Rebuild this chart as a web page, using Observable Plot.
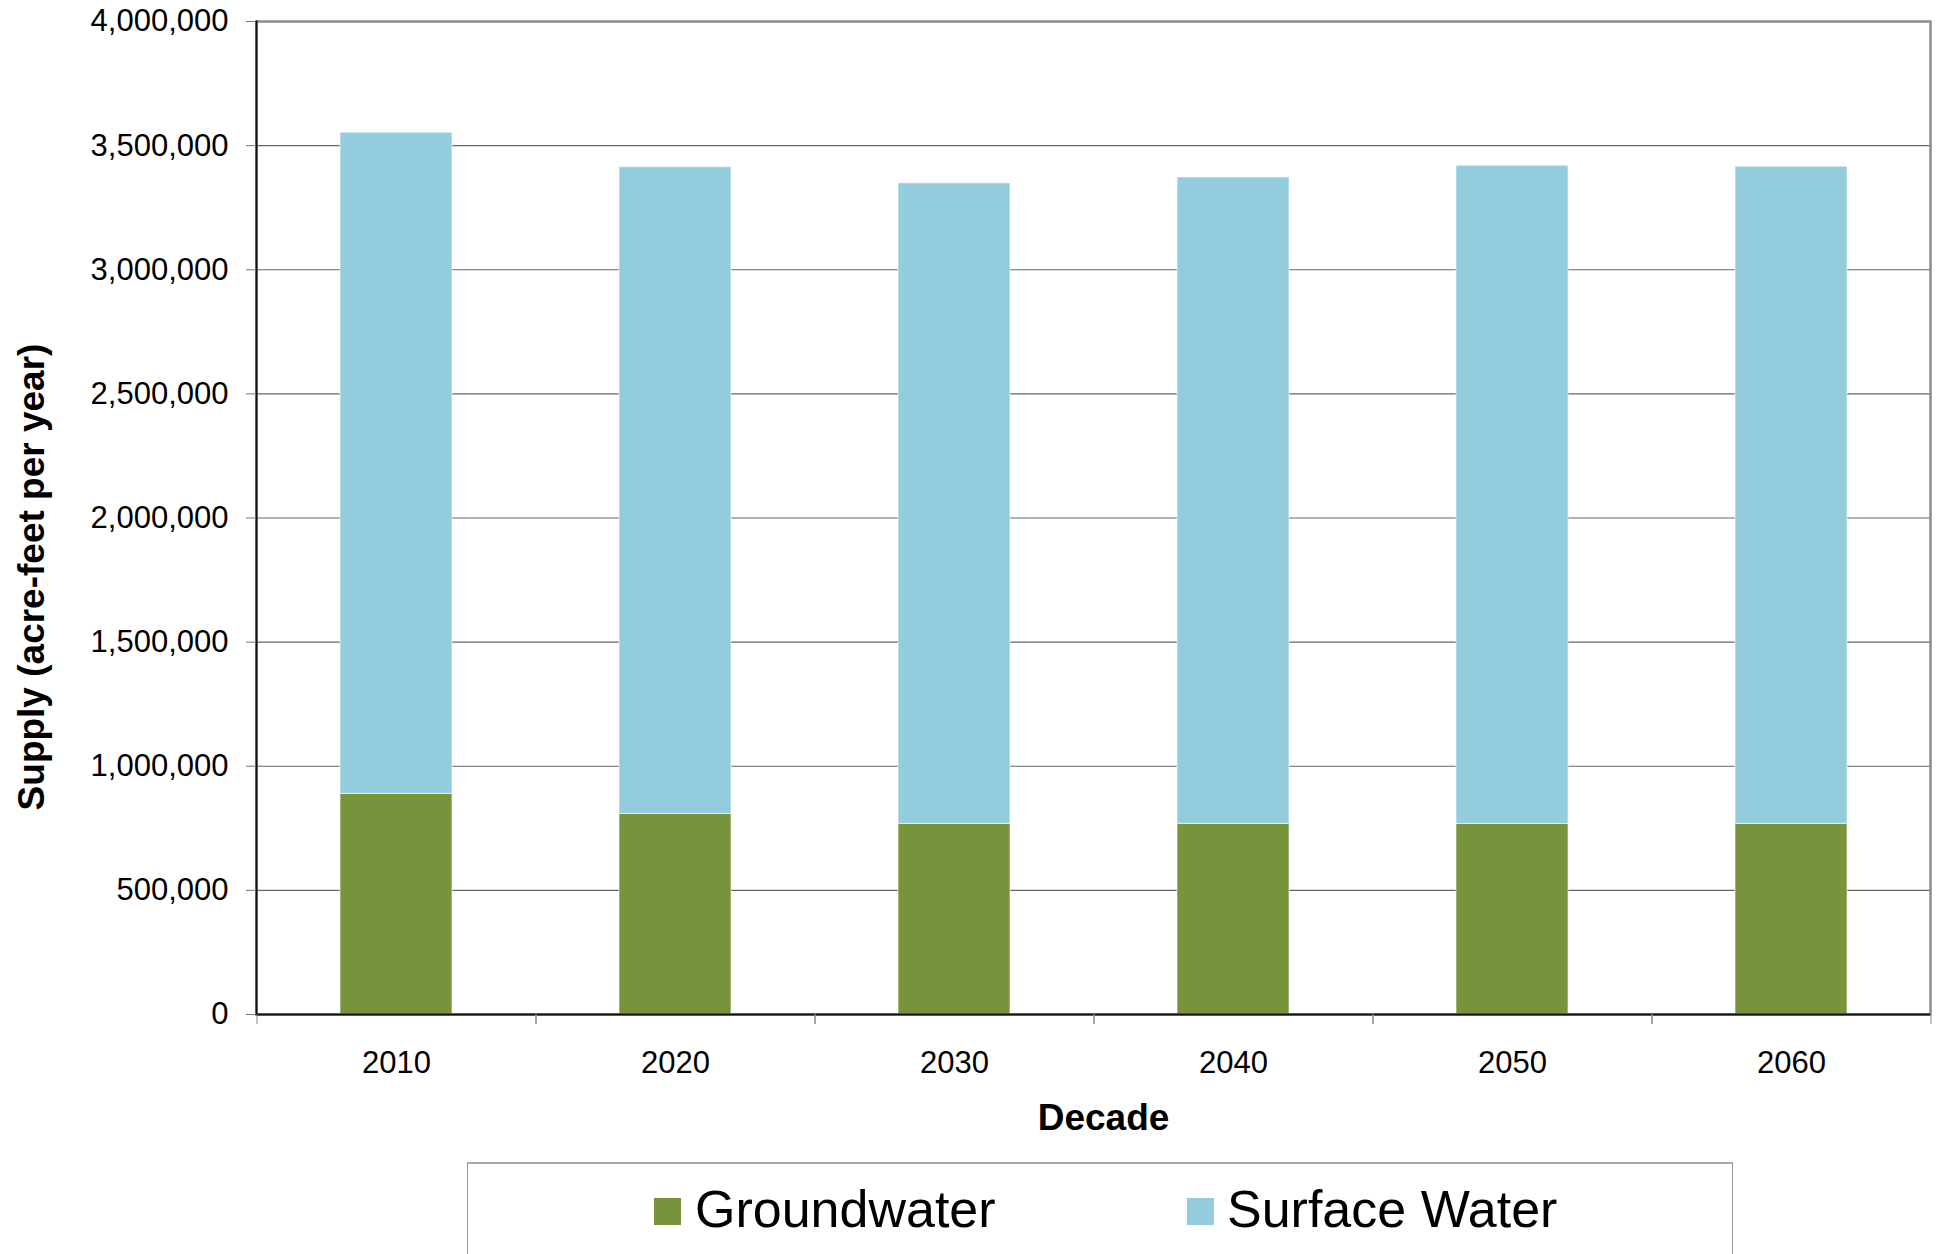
<!DOCTYPE html>
<html>
<head>
<meta charset="utf-8">
<script src="https://cdn.jsdelivr.net/npm/d3@7"></script>
<script src="https://cdn.jsdelivr.net/npm/@observablehq/plot@0.6"></script>
<style>
  html, body { margin: 0; padding: 0; background: #fff; width: 1942px; height: 1254px; overflow: hidden; }
  #wrap { position: relative; width: 1942px; height: 1254px; font-family: "Liberation Sans", Arial, sans-serif; }
  #legend { position: absolute; left: 467px; top: 1162px; width: 1266px; height: 130px; box-sizing: border-box;
            border: 1px solid #9a9a9a; border-top: 2px solid #a8a8a8; background: #fff; }
  .sw { position: absolute; width: 27px; height: 27px; }
  .lt { position: absolute; font-size: 52px; line-height: 1; color: #000; white-space: nowrap; }
</style>
</head>
<body>
<div id="wrap"><div id="chart"></div><div id="legend"></div></div>
<script>
// ---- data ----
const decades = ["2010", "2020", "2030", "2040", "2050", "2060"];
const groundwater = [889000, 808000, 768000, 768000, 768000, 768000];
const surfaceWater = [2663000, 2605000, 2580000, 2604000, 2651000, 2647000];
const seriesNames = ["Groundwater", "Surface Water"];
const seriesColors = ["#77933C", "#93CDDD"];
const yTicks = [0, 500000, 1000000, 1500000, 2000000, 2500000, 3000000, 3500000, 4000000];
const xTitle = "Decade";
const yTitle = "Supply (acre-feet per year)";

const rows = decades.flatMap((d, i) => [
  {decade: d, type: seriesNames[0], value: groundwater[i]},
  {decade: d, type: seriesNames[1], value: surfaceWater[i]}
]);

const halfStep = 139.5;

const chart = Plot.plot({
  width: 1942,
  height: 1150,
  marginLeft: 256,
  marginRight: 12,
  marginTop: 21,
  marginBottom: 136,
  style: {fontFamily: '"Liberation Sans", Arial, sans-serif', fontSize: "31px", color: "#000", background: "#fff"},
  x: {domain: decades, paddingInner: 0.6, paddingOuter: 0.3, label: null},
  y: {domain: [0, 4000000], label: null},
  color: {domain: seriesNames, range: seriesColors},
  marks: [
    Plot.gridY(yTicks, {stroke: "#666", strokeOpacity: 1, strokeWidth: 1.2}),
    Plot.barY(rows, {x: "decade", y: "value", fill: "type", stroke: "#fff", strokeOpacity: 0.6, strokeWidth: 1}),
    Plot.frame({stroke: "#8c8c8c", strokeWidth: 2.5}),
    Plot.frame({anchor: "left", stroke: "#111", strokeWidth: 2}),
    Plot.ruleY([0], {stroke: "#111", strokeWidth: 2.2}),
    Plot.axisY(yTicks, {tickSize: 10, tickPadding: 18, tickFormat: d3.format(","), stroke: "#777", fill: "#000", label: null}),
    Plot.axisX({tickSize: 0, tickPadding: 36, fill: "#000", label: null}),
    Plot.axisX({tickSize: 10, tickFormat: () => "", dx: -halfStep, stroke: "#888", label: null}),
    Plot.axisX({tickSize: 10, tickFormat: () => "", dx: halfStep, stroke: "#888", label: null}),
    Plot.text([xTitle], {frameAnchor: "bottom", textAnchor: "middle", dx: 10, dy: 104, lineAnchor: "middle", fontWeight: "bold", fontSize: 37, fill: "#000"}),
    Plot.text([yTitle], {frameAnchor: "left", textAnchor: "middle", rotate: -90, dx: -224, dy: 59, lineAnchor: "middle", fontWeight: "bold", fontSize: 37, fill: "#000"})
  ]
});
document.getElementById("chart").appendChild(chart);

// ---- legend ----
const legend = document.getElementById("legend");
const swX = [186, 719];
const txX = [227, 759];
seriesNames.forEach((name, i) => {
  const sw = document.createElement("div");
  sw.className = "sw";
  sw.style.left = swX[i] + "px";
  sw.style.top = "34px";
  sw.style.background = seriesColors[i];
  legend.appendChild(sw);
  const t = document.createElement("div");
  t.className = "lt";
  t.style.left = txX[i] + "px";
  t.style.top = "19px";
  t.textContent = name;
  legend.appendChild(t);
});
</script>
</body>
</html>
